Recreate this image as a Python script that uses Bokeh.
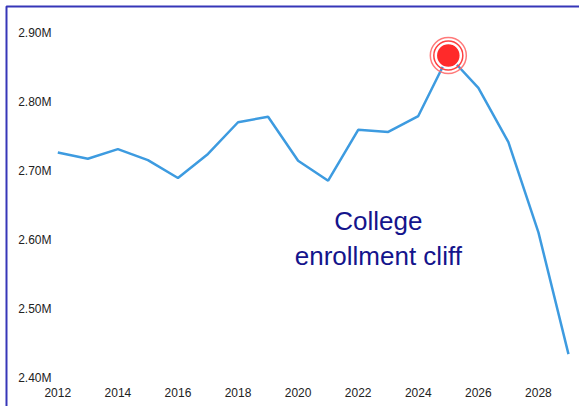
from bokeh.plotting import figure
from bokeh.models import Range1d, FixedTicker, BoxAnnotation
from bokeh.core.properties import value
from bokeh.embed import file_html
from bokeh.resources import INLINE

# ---- data ----
years = [2012, 2013, 2014, 2015, 2016, 2017, 2018, 2019, 2020,
         2021, 2022, 2023, 2024, 2025, 2026, 2027, 2028, 2029]
enrollment = [2727000, 2718000, 2732000, 2716000, 2690000, 2725000, 2771000, 2779000, 2715000,
              2686000, 2760000, 2757000, 2780000, 2868000, 2821000, 2742000, 2611000, 2434000]
peak_year = [2025]
peak_value = [2868000]
y_ticks = [2400000, 2500000, 2600000, 2700000, 2800000, 2900000]
y_tick_labels = ["2.40M", "2.50M", "2.60M", "2.70M", "2.80M", "2.90M"]
x_ticks = [2012, 2014, 2016, 2018, 2020, 2022, 2024, 2026, 2028]
x_tick_labels = ["2012", "2014", "2016", "2018", "2020", "2022", "2024", "2026", "2028"]
note_lines = ["College", "enrollment cliff"]
note_x = [2022.67, 2022.67]
note_y = [2628000, 2577000]

FONT = "Liberation Sans"
BORDER = "#3636b8"

p = figure(width=579, height=406, output_backend="svg", toolbar_location=None,
           x_range=Range1d(2010.0925, 2029.367), y_range=Range1d(2357849, 2947965),
           min_border=0, min_border_left=0, min_border_right=0,
           min_border_top=0, min_border_bottom=0)
p.outline_line_color = None
p.background_fill_color = "white"
p.border_fill_color = "white"
p.xgrid.grid_line_color = None
p.ygrid.grid_line_color = None

for ax in (p.xaxis[0], p.yaxis[0]):
    ax.axis_line_color = None
    ax.major_tick_line_color = None
    ax.minor_tick_line_color = None
    ax.major_tick_out = 0
    ax.major_tick_in = 0
    ax.major_label_text_font = FONT
    ax.major_label_text_font_size = "12px"
    ax.major_label_text_color = "#222222"

p.yaxis[0].ticker = FixedTicker(ticks=y_ticks)
p.yaxis[0].major_label_overrides = {t: l for t, l in zip(y_ticks, y_tick_labels)}
p.yaxis[0].major_label_standoff = 4
p.yaxis[0].fixed_location = 2011.923
p.xaxis[0].ticker = FixedTicker(ticks=x_ticks)
p.xaxis[0].major_label_overrides = {t: l for t, l in zip(x_ticks, x_tick_labels)}
p.xaxis[0].major_label_standoff = 10
p.xaxis[0].fixed_location = 2400000

# chart box border (its top and left edges are what shows)
p.add_layout(BoxAnnotation(left=2010.292, right=2040, top=2939244, bottom=2000000,
                           fill_color=None, fill_alpha=0,
                           line_color=BORDER, line_width=2, line_alpha=1))

p.line(years, enrollment, line_color="#3d9be0", line_width=2.5)

# peak marker with rings
p.scatter(peak_year, peak_value, marker="circle", size=36, fill_color=None,
          line_color="#ff6b6b", line_width=1.5, line_alpha=0.9)
p.scatter(peak_year, peak_value, marker="circle", size=29, fill_color=None,
          line_color="#ff4040", line_width=1.5)
p.scatter(peak_year, peak_value, marker="circle", size=24, fill_color="#ff2a2a",
          line_color="white", line_width=1.5)

p.text(note_x, note_y, text=note_lines, text_font=value(FONT), text_font_size="26px",
       text_color="#14148c", text_align="center", text_baseline="alphabetic")

open("out.html", "w").write(file_html(p, INLINE))
